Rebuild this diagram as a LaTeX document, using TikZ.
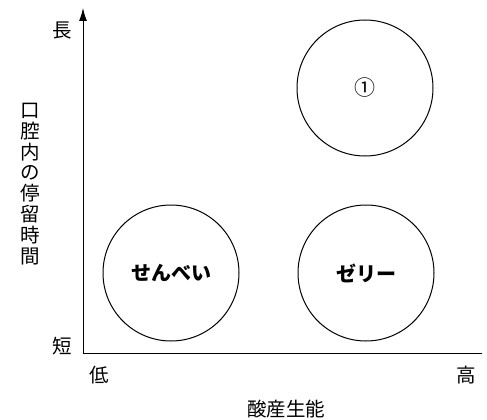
\documentclass[tikz,border=0pt]{standalone}
\usepackage{fontspec}
\newfontfamily\jpfont{Noto Sans CJK JP}
\usetikzlibrary{arrows.meta}

\tikzset{
    label/.style = {font=\jpfont\fontsize{19.5}{20.8}\selectfont, inner sep=0pt},
    group/.style = {circle, draw, line width=1pt, minimum size=136pt, inner sep=0pt,
                    font=\jpfont\bfseries\fontsize{20}{20}\selectfont}
}

\begin{document}
\begin{tikzpicture}[x=1pt, y=-1pt, line width=1pt]
                \useasboundingbox (0,0) rectangle (487,420);
                \coordinate (O) at (83,353);
                \coordinate (Ytop) at (83,8);
                \coordinate (Xend) at (482,353);

                \draw [-{Latex[length=13pt,width=8pt]}] (O) -- (Ytop);
                \draw (O) -- (Xend);

                \node[label] (long) at (62,31) {長};
                \node[label] (short) at (62,346) {短};
                \node[label] (low) at (99,375) {低};
                \node[label] (high) at (466,375) {高};
                \node[label] (xname) at (286,409) {酸産生能};
                \node[label, align=center] (yname) at (30,184) {口\\腔\\内\\の\\停\\留\\時\\間};

                \node[group] (one) at (365,88) {\mdseries\fontsize{21}{21}\selectfont ①};
                \node[group] (senbei) at (171,273) {せんべい};
                \node[group] (jelly) at (366,273) {ゼリー};
            \end{tikzpicture}
\end{document}
